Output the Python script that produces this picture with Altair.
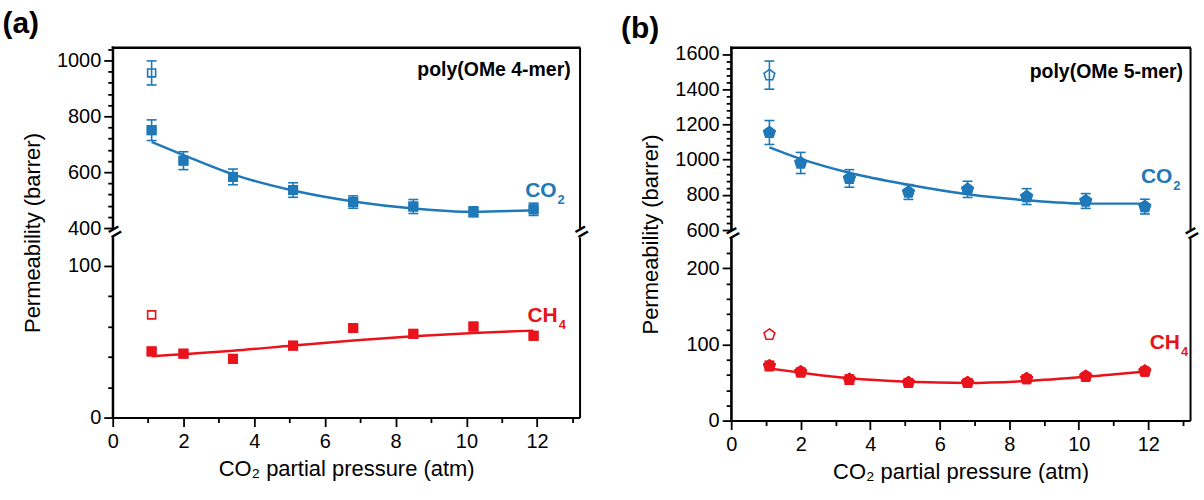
import altair as alt
import pandas as pd

FONT = "Liberation Sans"
BLUE = "#1f78b8"
RED = "#e8131b"
PENTA = "M0,-1L0.951,-0.309L0.588,0.809L-0.588,0.809L-0.951,-0.309Z"
CAP = "M-1,0L1,0"

pressure = [1.1, 2.0, 3.4, 5.1, 6.8, 8.5, 10.2, 11.9]
open_pressure = [1.1]

# panel (a) poly(OMe 4-mer)
co2_a = [750, 641, 583, 536, 493, 477, 458, 467]
co2_a_err = [37, 32, 28, 26, 22, 25, 18, 22]
co2_a_fit = [708, 661, 592, 534, 495, 470, 458, 464]
co2_a_open = [955]
co2_a_open_err = [43]
ch4_a = [43.6, 42.1, 38.7, 47.4, 59.0, 55.2, 60.0, 53.9]
ch4_a_fit = [40.4, 41.8, 44.0, 47.5, 50.8, 53.6, 55.8, 57.3]
ch4_a_open = [67.7]

# panel (b) poly(OMe 5-mer)
co2_b = [1154, 981, 893, 816, 831, 790, 765, 733]
co2_b_err = [68, 60, 50, 42, 46, 45, 42, 42]
co2_b_fit = [1070, 1004, 925, 857, 803, 769, 750, 750]
co2_b_open = [1480]
co2_b_open_err = [80]
ch4_b = [72, 64, 54, 50, 50, 55, 58, 65]
ch4_b_err = [6, 5, 6, 5, 5, 5, 5, 5]
ch4_b_fit = [68.5, 63, 55.5, 51, 49.5, 52, 57.5, 64.5]
ch4_b_open = [113]

X_TICKS = [i * 0.5 for i in range(27)]
X_DOMAIN = [0, 13.2]
YTITLE = "Permeability (barrer)"
XTITLE = "CO\u2082 partial pressure (atm)"


def frame(x, y, err=None):
    d = {"p": x, "v": y}
    if err is not None:
        d["lo"] = [a - b for a, b in zip(y, err)]
        d["hi"] = [a + b for a, b in zip(y, err)]
    return pd.DataFrame(d)


def cond_size(mod, big, small):
    return {"condition": {"test": f"datum.value % {mod} === 0", "value": big}, "value": small}


def segment(width, height, ydom, yvals, ymod, top, pts, fit, opn, color,
            shape_f, size_f, shape_o, size_o, label, sub, label_pos,
            poly=None, title_y=None, gap_mid=0):
    xs = alt.Scale(domain=X_DOMAIN, nice=False, zero=False)
    ys = alt.Scale(domain=ydom, nice=False, zero=False)
    if top:
        xax = alt.Axis(orient="top", labels=False, ticks=False, title=None, grid=False,
                       domain=True, domainColor="black", domainWidth=2)
    else:
        xax = alt.Axis(values=X_TICKS, labelExpr="datum.value % 2 === 0 ? datum.label : ''",
                       tickSize=cond_size(2, 9, 5), title=XTITLE, grid=False, format="d",
                       labelFlush=False, labelOverlap=False, titlePadding=7, labelPadding=5,
                       domain=True, domainColor="black", domainWidth=2, ticks=True)
    yax = alt.Axis(values=yvals, labelExpr=f"datum.value % {ymod} === 0 ? datum.label : ''",
                   tickSize=cond_size(ymod, 9, 5), grid=False, format="d",
                   labelFlush=False, labelOverlap=False, orient="left",
                   domain=True, domainColor="black", domainWidth=2, ticks=True,
                   title=YTITLE if top else None,
                   **({"titleY": title_y} if top else {}))
    right_ax = alt.Axis(orient="right", labels=False, ticks=False, title=None, grid=False,
                        domain=True, domainColor="black", domainWidth=2)

    X = alt.X("p:Q", scale=xs, axis=xax)

    layers = []
    layers.append(alt.Chart(pts).mark_point(shape=shape_f, size=size_f, filled=True, color=color,
                                            opacity=1)
                  .encode(X, alt.Y("v:Q", scale=ys, axis=yax)))
    layers.append(alt.Chart(fit).mark_line(color=color, strokeWidth=2.5, interpolate="monotone")
                  .encode(X, alt.Y("v:Q", scale=ys, axis=right_ax)))
    # frame lines (left edge, plus top edge for the upper segment) along the scale domains
    left_edge = pd.DataFrame({"p": [X_DOMAIN[0]], "v": [ydom[0]], "v2": [ydom[1]]})
    layers.append(alt.Chart(left_edge).mark_rule(color="black", strokeWidth=2, strokeCap="square")
                  .encode(X, alt.Y("v:Q", scale=ys, axis=None), alt.Y2("v2:Q")))
    if top:
        top_edge = pd.DataFrame({"p": [X_DOMAIN[0]], "p2": [X_DOMAIN[1]], "v": [ydom[1]]})
        layers.append(alt.Chart(top_edge).mark_rule(color="black", strokeWidth=2, strokeCap="square")
                      .encode(X, alt.X2("p2:Q"), alt.Y("v:Q", scale=ys, axis=None)))
    if "lo" in pts.columns:
        layers.append(alt.Chart(pts).mark_rule(color=color, strokeWidth=1.6)
                      .encode(X, alt.Y("lo:Q", scale=ys, axis=None), alt.Y2("hi:Q")))
        for c in ["lo", "hi"]:
            layers.append(alt.Chart(pts).mark_point(shape=CAP, size=100, color=color, strokeWidth=1.6,
                                                    filled=False, opacity=1)
                          .encode(X, alt.Y(f"{c}:Q", scale=ys, axis=None)))
    if "lo" in opn.columns:
        layers.append(alt.Chart(opn).mark_rule(color=color, strokeWidth=1.6)
                      .encode(X, alt.Y("lo:Q", scale=ys, axis=None), alt.Y2("hi:Q")))
        for c in ["lo", "hi"]:
            layers.append(alt.Chart(opn).mark_point(shape=CAP, size=100, color=color, strokeWidth=1.6,
                                                    filled=False, opacity=1)
                          .encode(X, alt.Y(f"{c}:Q", scale=ys, axis=None)))
    layers.append(alt.Chart(pts).mark_point(shape=shape_f, size=size_f, filled=True, color=color,
                                            opacity=1)
                  .encode(X, alt.Y("v:Q", scale=ys, axis=None)))
    layers.append(alt.Chart(opn).mark_point(shape=shape_o, size=size_o, filled=False, color=color,
                                            strokeWidth=1.6, opacity=1)
                  .encode(X, alt.Y("v:Q", scale=ys, axis=None)))
    lab = pd.DataFrame({"p": [label_pos[0]], "v": [label_pos[1]], "t": [label], "s": [sub]})
    layers.append(alt.Chart(lab).mark_text(color=color, font=FONT, fontSize=21, fontWeight="bold",
                                           align="right", baseline="middle")
                  .encode(X, alt.Y("v:Q", scale=ys, axis=None), text="t:N"))
    layers.append(alt.Chart(lab).mark_text(color=color, font=FONT, fontSize=13, fontWeight="bold",
                                           align="left", baseline="middle", dx=1, dy=9)
                  .encode(X, alt.Y("v:Q", scale=ys, axis=None), text="s:N"))
    if poly is not None:
        pl = pd.DataFrame({"p": [poly[0]], "v": [poly[1]], "t": [poly[2]]})
        layers.append(alt.Chart(pl).mark_text(color="black", font=FONT, fontSize=19.5, fontWeight="bold",
                                              align="right", baseline="middle")
                      .encode(X, alt.Y("v:Q", scale=ys, axis=None), text="t:N"))
    if top:
        br = pd.DataFrame({"p": X_DOMAIN, "v": [ydom[0], ydom[0]], "t": ["=", "="]})
        layers.append(alt.Chart(br).mark_text(color="black", font=FONT, fontSize=22, fontWeight="bold",
                                              align="center", baseline="middle", angle=330, dy=gap_mid)
                      .encode(X, alt.Y("v:Q", scale=ys, axis=None), text="t:N"))
    return alt.layer(*layers).resolve_axis(y="independent").properties(width=width, height=height)


# panel (a)
pts_co2_a = frame(pressure, co2_a, co2_a_err)
fit_co2_a = frame(pressure, co2_a_fit)
opn_co2_a = frame(open_pressure, co2_a_open, co2_a_open_err)
pts_ch4_a = frame(pressure, ch4_a)
fit_ch4_a = frame(pressure, ch4_a_fit)
opn_ch4_a = frame(open_pressure, ch4_a_open)

WA, HA, GA = 468, 181, 9
up_a = segment(WA, HA, [400, 1046], list(range(400, 1041, 40)), 200, True,
               pts_co2_a, fit_co2_a, opn_co2_a, BLUE, "square", 100, "square", 64,
               "CO", "2", (12.55, 532), poly=(12.95, 964, "poly(OMe 4-mer)"),
               title_y=(HA * 2 + GA) / 2, gap_mid=GA / 2)
lo_a = segment(WA, HA, [0, 119], list(range(0, 101, 20)), 100, False,
               pts_ch4_a, fit_ch4_a, opn_ch4_a, RED, "square", 100, "square", 64,
               "CH", "4", (12.58, 67))
panel_a = alt.vconcat(up_a, lo_a, spacing=GA, bounds="flush",
                      title=alt.Title("(a)", anchor="start", fontSize=30, fontWeight="bold",
                                      font=FONT, dx=-19, offset=0))

# panel (b)
pts_co2_b = frame(pressure, co2_b, co2_b_err)
fit_co2_b = frame(pressure, co2_b_fit)
opn_co2_b = frame(open_pressure, co2_b_open, co2_b_open_err)
pts_ch4_b = frame(pressure, ch4_b, ch4_b_err)
fit_ch4_b = frame(pressure, ch4_b_fit)
opn_ch4_b = frame(open_pressure, ch4_b_open)

WB, HB, GB = 460, 183, 8
up_b = segment(WB, HB, [600, 1637], list(range(600, 1601, 40)), 200, True,
               pts_co2_b, fit_co2_b, opn_co2_b, BLUE, PENTA, 190, PENTA, 130,
               "CO", "2", (12.69, 899), poly=(13.0, 1500, "poly(OMe 5-mer)"),
               title_y=(HB * 2 + GB) / 2, gap_mid=GB / 2)
lo_b = segment(WB, HB, [0, 240], list(range(0, 221, 20)), 100, False,
               pts_ch4_b, fit_ch4_b, opn_ch4_b, RED, PENTA, 190, PENTA, 130,
               "CH", "4", (12.91, 102))
panel_b = alt.vconcat(up_b, lo_b, spacing=GB, bounds="flush",
                      title=alt.Title("(b)", anchor="start", fontSize=30, fontWeight="bold",
                                      font=FONT, dx=-19, offset=0))

chart = (
    alt.hconcat(panel_a, panel_b, spacing=27)
    .properties(padding={"left": 2, "top": 8, "right": 0, "bottom": 0}, background="white")
    .configure_view(stroke=None)
    .configure_axis(labelFont=FONT, titleFont=FONT, labelFontSize=20, titleFontSize=22,
                    titleFontWeight="normal", labelColor="black", titleColor="black",
                    domainColor="black", tickColor="black", domainWidth=2, tickWidth=1.8,
                    labelPadding=3, titlePadding=12)
)

chart.save("out.html", embed_options={"renderer": "svg", "actions": False})
